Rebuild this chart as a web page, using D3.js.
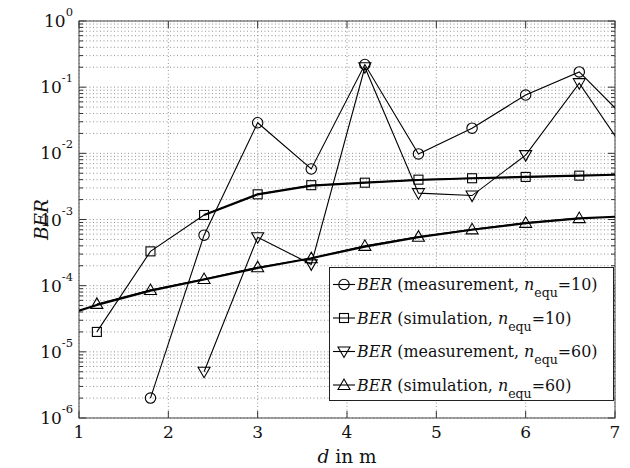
<!DOCTYPE html>
<html><head><meta charset="utf-8">
<script src="https://cdn.jsdelivr.net/npm/d3@7"></script>
<style>html,body{margin:0;padding:0;background:#fff;}</style>
</head><body>
<script>
// ---- data ----
const dMeas10 = [1.8, 2.4, 3.0, 3.6, 4.2, 4.8, 5.4, 6.0, 6.6, 7.2];
const berMeas10 = [2e-6, 5.8e-4, 2.9e-2, 5.8e-3, 0.22, 9.8e-3, 2.4e-2, 7.6e-2, 0.17, 2.6e-2];
const dMeas60 = [2.4, 3.0, 3.6, 4.2, 4.8, 5.4, 6.0, 6.6, 7.2];
const berMeas60 = [5e-6, 5.4e-4, 2.1e-4, 0.2, 2.5e-3, 2.3e-3, 9.4e-3, 0.115, 7.4e-3];
const dSim = [1.2, 1.8, 2.4, 3.0, 3.6, 4.2, 4.8, 5.4, 6.0, 6.6];
const berSim10 = [2e-5, 3.3e-4, 1.17e-3, 2.4e-3, 3.3e-3, 3.6e-3, 4.0e-3, 4.2e-3, 4.4e-3, 4.6e-3];
const berSim60 = [5.3e-5, 8.6e-5, 1.26e-4, 1.9e-4, 2.6e-4, 4.0e-4, 5.5e-4, 7.1e-4, 8.9e-4, 1.05e-3];
const dCurve10 = [2.4, 3.0, 3.6, 4.2, 4.8, 5.4, 6.0, 6.6, 7.0];
const berCurve10 = [1.17e-3, 2.4e-3, 3.25e-3, 3.6e-3, 3.95e-3, 4.2e-3, 4.4e-3, 4.6e-3, 4.75e-3];
const dCurve60 = [1.0, 1.2, 1.8, 2.4, 3.0, 3.6, 4.2, 4.8, 5.4, 6.0, 6.6, 7.0];
const berCurve60 = [4.2e-5, 5.1e-5, 8.4e-5, 1.24e-4, 1.85e-4, 2.6e-4, 3.9e-4, 5.4e-4, 7.0e-4, 8.8e-4, 1.04e-3, 1.1e-3];
const xTicks = [1, 2, 3, 4, 5, 6, 7];
const yExps = [0, -1, -2, -3, -4, -5, -6];
const legendLabels = [
  {mode: "measurement", n: "10", marker: "circle"},
  {mode: "simulation", n: "10", marker: "square"},
  {mode: "measurement", n: "60", marker: "tdown"},
  {mode: "simulation", n: "60", marker: "tup"}
];

// ---- layout ----
const W = 630, H = 468;
const L = 79, R = 615, T = 21, B = 418;
const FONT = "DejaVu Serif";
const svg = d3.select("body").append("svg").attr("width", W).attr("height", H)
  .attr("font-family", FONT);
const x = d3.scaleLinear().domain([1, 7]).range([L, R]);
const y = d3.scaleLog().domain([1e-6, 1]).range([B, T]);

svg.append("defs").append("clipPath").attr("id", "clip")
  .append("rect").attr("x", L).attr("y", T).attr("width", R - L).attr("height", B - T);

// grid
const grid = svg.append("g");
const minorVals = [];
for (let e = -6; e < 0; e++) for (let k = 1; k <= 9; k++) minorVals.push(k * Math.pow(10, e));
minorVals.push(1);
grid.selectAll("line.hy").data(minorVals).enter().append("line")
  .attr("x1", L).attr("x2", R).attr("y1", d => y(d)).attr("y2", d => y(d))
  .attr("stroke", "#777").attr("stroke-width", 0.8).attr("stroke-dasharray", "1,2.5");
grid.selectAll("line.vx").data(xTicks).enter().append("line")
  .attr("y1", T).attr("y2", B).attr("x1", d => x(d)).attr("x2", d => x(d))
  .attr("stroke", "#777").attr("stroke-width", 0.8).attr("stroke-dasharray", "1,2.5");

// ticks (inward, all four sides)
const yMajor = yExps.map(e => Math.pow(10, e));
const tickG = svg.append("g").attr("stroke", "#333");
minorVals.forEach(v => {
  const maj = yMajor.some(m => Math.abs(m - v) < 1e-12);
  const len = maj ? 7 : 4;
  tickG.append("line").attr("x1", L).attr("x2", L + len).attr("y1", y(v)).attr("y2", y(v));
  tickG.append("line").attr("x1", R).attr("x2", R - len).attr("y1", y(v)).attr("y2", y(v));
});
xTicks.forEach(v => {
  tickG.append("line").attr("x1", x(v)).attr("x2", x(v)).attr("y1", B).attr("y2", B - 7);
  tickG.append("line").attr("x1", x(v)).attr("x2", x(v)).attr("y1", T).attr("y2", T + 7);
});

// frame
svg.append("rect").attr("x", L).attr("y", T).attr("width", R - L).attr("height", B - T)
  .attr("fill", "none").attr("stroke", "#444").attr("stroke-width", 1);

// tick labels
const xl = svg.append("g").attr("font-size", 17).attr("fill", "#111");
xTicks.forEach(v => {
  xl.append("text").attr("x", x(v)).attr("y", 438).attr("text-anchor", "middle").text(v);
});
const yl = svg.append("g").attr("fill", "#111");
yExps.forEach(e => {
  const t = yl.append("text").attr("x", 73).attr("y", y(Math.pow(10, e)) + 6)
    .attr("text-anchor", "end").attr("font-size", 17);
  t.append("tspan").text("10");
  t.append("tspan").attr("font-size", 11.5).attr("dy", -11).text(e);
});

// axis titles
const xt = svg.append("text").attr("x", (L + R) / 2).attr("y", 463).attr("text-anchor", "middle")
  .attr("font-size", 18.5).attr("fill", "#111");
xt.append("tspan").attr("font-style", "italic").text("d");
xt.append("tspan").text(" in m");
svg.append("text").attr("transform", `translate(48,${(T + B) / 2}) rotate(-90)`)
  .attr("text-anchor", "middle").attr("font-size", 18.5).attr("font-style", "italic")
  .attr("fill", "#111").text("BER");

// series
const plot = svg.append("g").attr("clip-path", "url(#clip)");
const line = d3.line().x(d => x(d[0])).y(d => y(d[1]));
const zipd = (a, b) => a.map((v, i) => [v, b[i]]);

function marker(g, type, cx, cy) {
  if (type === "circle") g.append("circle").attr("cx", cx).attr("cy", cy).attr("r", 5.2);
  else if (type === "square") g.append("rect").attr("x", cx - 4.5).attr("y", cy - 4.5).attr("width", 9).attr("height", 9);
  else if (type === "tdown") g.append("path").attr("d", `M${cx - 6},${cy - 4.5}L${cx + 6},${cy - 4.5}L${cx},${cy + 6}Z`);
  else g.append("path").attr("d", `M${cx - 6},${cy + 4.5}L${cx + 6},${cy + 4.5}L${cx},${cy - 6}Z`);
}

// thick simulation curves
plot.append("path").datum(zipd(dCurve60, berCurve60)).attr("d", line)
  .attr("fill", "none").attr("stroke", "#000").attr("stroke-width", 2.2);
plot.append("path").datum(zipd(dCurve10, berCurve10)).attr("d", line)
  .attr("fill", "none").attr("stroke", "#000").attr("stroke-width", 2.2);

const series = [
  {xs: dMeas10, ys: berMeas10, m: "circle"},
  {xs: dSim, ys: berSim10, m: "square"},
  {xs: dMeas60, ys: berMeas60, m: "tdown"},
  {xs: dSim, ys: berSim60, m: "tup"}
];
series.forEach(s => {
  const data = zipd(s.xs, s.ys);
  plot.append("path").datum(data).attr("d", line)
    .attr("fill", "none").attr("stroke", "#000").attr("stroke-width", 1.1);
  const mg = plot.append("g").attr("fill", "none").attr("stroke", "#000").attr("stroke-width", 1.1);
  data.forEach(d => marker(mg, s.m, x(d[0]), y(d[1])));
});

// legend
const lg = svg.append("g");
lg.append("rect").attr("x", 329.5).attr("y", 267.5).attr("width", 284).attr("height", 133)
  .attr("fill", "#fff").attr("stroke", "#222").attr("stroke-width", 1);
legendLabels.forEach((d, i) => {
  const cy = 284.5 + i * 33.5;
  lg.append("line").attr("x1", 333).attr("x2", 355).attr("y1", cy).attr("y2", cy)
    .attr("stroke", "#000").attr("stroke-width", 1.1);
  const mg = lg.append("g").attr("fill", "none").attr("stroke", "#000").attr("stroke-width", 1.1);
  marker(mg, d.marker, 344, cy);
  const t = lg.append("text").attr("x", 357).attr("y", cy + 5.5).attr("font-size", 15.9).attr("fill", "#111");
  t.append("tspan").attr("font-style", "italic").text("BER");
  t.append("tspan").text(` (${d.mode}, `);
  t.append("tspan").attr("font-style", "italic").text("n");
  t.append("tspan").attr("font-size", 12.5).attr("dy", 7).text("equ");
  t.append("tspan").attr("dy", -7).text(`=${d.n})`);
});
</script>
</body></html>
